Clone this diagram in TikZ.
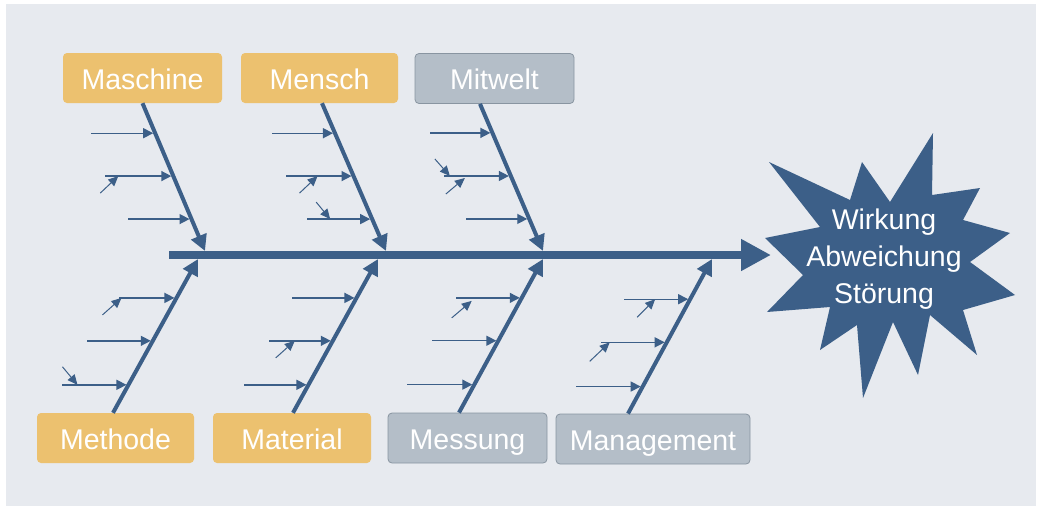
\documentclass[tikz,border=0pt]{standalone}
\usepackage{fontspec}
\setmainfont{Liberation Sans}
\usetikzlibrary{arrows.meta,calc,positioning}

\definecolor{fishblue}{HTML}{3C5F88}
\definecolor{bgblue}{HTML}{E7EAEF}
\definecolor{boxyellow}{HTML}{ECC16F}
\definecolor{boxgrey}{HTML}{B4BEC8}
\definecolor{boxline}{HTML}{8995A1}

\begin{document}
\begin{tikzpicture}[x=1pt,y=-1pt]
\tikzset{cat/.style={rounded corners=4pt, minimum height=50pt, inner sep=0pt, text=white, text height=22pt, text depth=0pt, font=\fontsize{28.5}{34}\selectfont}}
\tikzset{cy/.style={cat, fill=boxyellow}}
\tikzset{cg/.style={cat, fill=boxgrey, draw=boxline, line width=0.8pt}}
\tikzset{spine/.style={draw=fishblue, line width=8pt, -{Triangle[length=30pt,width=30pt]}}}
\tikzset{bone/.style={draw=fishblue, line width=4pt, -{Triangle[length=16pt,width=16pt]}}}
\tikzset{twig/.style={draw=fishblue, line width=1.4pt, {Triangle[length=10pt,width=10pt]}-, shorten <=2pt}}
\tikzset{tiny/.style={draw=fishblue, line width=1pt, {Triangle[length=10pt,width=9pt]}-}}

\useasboundingbox (0,0) rectangle (1038,509);
\fill[bgblue] (6,4) rectangle (1036,506);

% categories
\node[cy, minimum width=159pt] (mas) at (142.5,78) {Maschine};
\node[cy, minimum width=157pt] (men) at (319.5,78) {Mensch};
\node[cg, minimum width=159pt] (mit) at (494.5,78.5) {Mitwelt};
\node[cy, minimum width=157pt] (met) at (115.5,438) {Methode};
\node[cy, minimum width=158pt] (mat) at (292,438) {Material};
\node[cg, minimum width=159pt] (mes) at (467.5,438) {Messung};
\node[cg, minimum width=194pt] (man) at (653,439) {Management};

% effect
\fill[fishblue] (765,238) -- (820,227) -- (769,162) -- (850,200) -- (862,162) -- (890,202)
  -- (933,133) -- (932,195) -- (980,188) -- (963,220) -- (1010,233) -- (970,262)
  -- (1015,295) -- (963,310) -- (977,355) -- (930,315) -- (918,375) -- (893,322)
  -- (863,398) -- (857,325) -- (820,350) -- (830,307) -- (767,312) -- (803,275) -- cycle;
\node[text=white, align=center, font=\fontsize{28.5}{37}\selectfont] (eff) at (884,259) {Wirkung\\Abweichung\\Störung};

% spine
\coordinate (s0) at (169,255);
\coordinate (s1) at (771,255);
\draw[spine] (s0) -- (s1);

\coordinate (h1) at (205,251);
\coordinate (h2) at (386,251);
\coordinate (h3) at (543,251);
\coordinate (h4) at (198,259);
\coordinate (h5) at (378,259);
\coordinate (h6) at (543,259);
\coordinate (h7) at (712,259);

% bones
\draw[bone] (mas.south) -- (h1) coordinate[pos=.203] (ma1) coordinate[pos=.493] (ma2) coordinate[pos=.784] (ma3);
\draw[bone] ([xshift=2.5pt]men.south) -- (h2) coordinate[pos=.203] (me1) coordinate[pos=.493] (me2) coordinate[pos=.784] (me3);
\draw[bone] ([xshift=-14.5pt]mit.south) -- (h3) coordinate[pos=.197] (mi1) coordinate[pos=.490] (mi2) coordinate[pos=.782] (mi3);
\draw[bone] ([xshift=-2.5pt]met.north) -- (h4) coordinate[pos=.747] (mo1) coordinate[pos=.468] (mo2) coordinate[pos=.182] (mo3);
\draw[bone] ([xshift=1pt]mat.north) -- (h5) coordinate[pos=.747] (mt1) coordinate[pos=.468] (mt2) coordinate[pos=.182] (mt3);
\draw[bone] ([xshift=-8.5pt]mes.north) -- (h6) coordinate[pos=.747] (mu1) coordinate[pos=.468] (mu2) coordinate[pos=.182] (mu3);
\draw[bone] ([xshift=-25pt]man.north) -- (h7) coordinate[pos=.740] (mg1) coordinate[pos=.461] (mg2) coordinate[pos=.175] (mg3);

% causes
\draw[twig] (ma1) -- ++(-64,0) coordinate (ma1s);
\draw[twig] (ma2) -- ++(-68,0) coordinate (ma2s);
\draw[twig] (ma3) -- ++(-64,0) coordinate (ma3s);
\draw[twig] (me1) -- ++(-63,0) coordinate (me1s);
\draw[twig] (me2) -- ++(-68,0) coordinate (me2s);
\draw[twig] (me3) -- ++(-65,0) coordinate (me3s);
\draw[twig] (mi1) -- ++(-62,0) coordinate (mi1s);
\draw[twig] (mi2) -- ++(-67,0) coordinate (mi2s);
\draw[twig] (mi3) -- ++(-63,0) coordinate (mi3s);
\draw[twig] (mo1) -- ++(-57,0) coordinate (mo1s);
\draw[twig] (mo2) -- ++(-66,0) coordinate (mo2s);
\draw[twig] (mo3) -- ++(-66,0) coordinate (mo3s);
\draw[twig] (mt1) -- ++(-64,0) coordinate (mt1s);
\draw[twig] (mt2) -- ++(-64,0) coordinate (mt2s);
\draw[twig] (mt3) -- ++(-64,0) coordinate (mt3s);
\draw[twig] (mu1) -- ++(-66,0) coordinate (mu1s);
\draw[twig] (mu2) -- ++(-66,0) coordinate (mu2s);
\draw[twig] (mu3) -- ++(-67,0) coordinate (mu3s);
\draw[twig] (mg1) -- ++(-66,0) coordinate (mg1s);
\draw[twig] (mg2) -- ++(-66,0) coordinate (mg2s);
\draw[twig] (mg3) -- ++(-67,0) coordinate (mg3s);

% sub causes
\draw[tiny] ($(ma2s)+(13,0)$) -- ++(-18,17);
\draw[tiny] ($(me2s)+(32,0)$) -- ++(-18,17);
\draw[tiny] ($(me3s)+(23,0)$) -- ++(-14,-17);
\draw[tiny] ($(mi2s)+(6,0)$) -- ++(-15,-17);
\draw[tiny] ($(mi2s)+(21,2)$) -- ++(-19,16);
\draw[tiny] ($(mo1s)+(2,0)$) -- ++(-19,17);
\draw[tiny] ($(mo3s)+(15,0)$) -- ++(-15,-18);
\draw[tiny] ($(mt2s)+(26,0)$) -- ++(-19,17);
\draw[tiny] ($(mu1s)+(16,3)$) -- ++(-20,17);
\draw[tiny] ($(mg1s)+(31,0)$) -- ++(-18,18);
\draw[tiny] ($(mg2s)+(9,0)$) -- ++(-20,19);

\end{tikzpicture}
\end{document}
